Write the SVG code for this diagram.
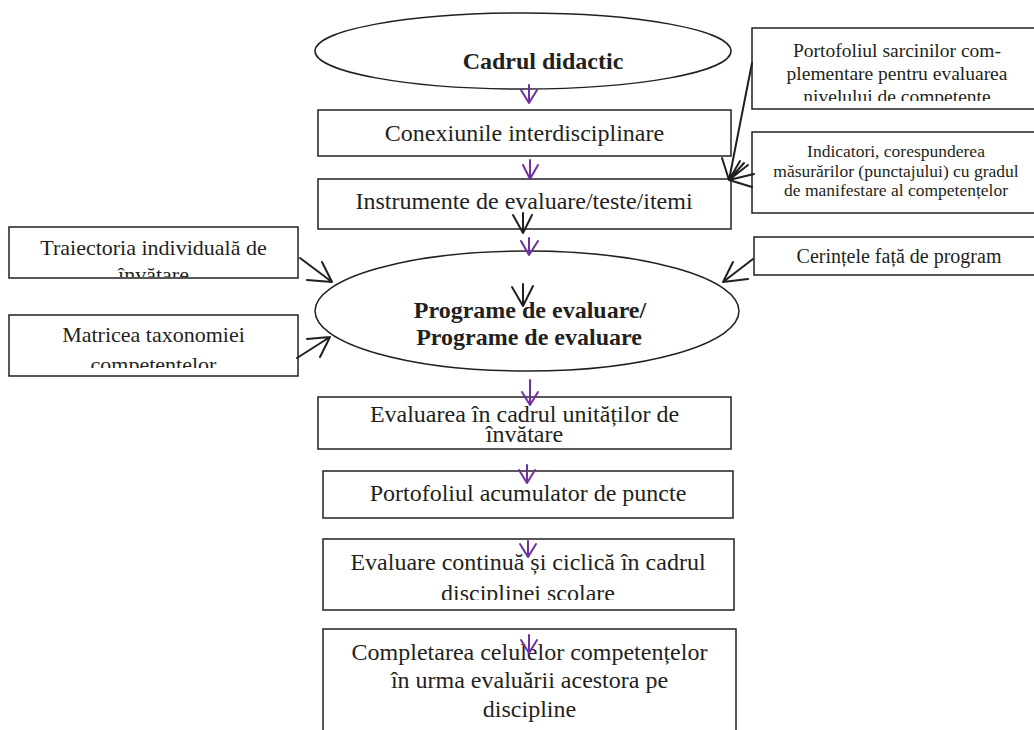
<svg xmlns="http://www.w3.org/2000/svg" width="1034" height="730" viewBox="0 0 1034 730">
<style>
.box{fill:#fff;stroke:#231f20;stroke-width:1.5}
.t{font-family:"Liberation Serif","Times New Roman",serif;fill:#231f20;text-anchor:middle}
.b{font-weight:bold}
.blk{fill:none;stroke:#231f20;stroke-width:2;stroke-linecap:round;stroke-linejoin:round}
.pur{fill:none;stroke:#7030a0;stroke-width:2;stroke-linecap:round;stroke-linejoin:round}
</style>
<defs>
<clipPath id="c1"><rect x="752" y="28" width="290" height="73"/></clipPath>
<clipPath id="c2"><rect x="9" y="227" width="289" height="50"/></clipPath>
<clipPath id="c3"><rect x="9" y="315" width="289" height="53"/></clipPath>
<clipPath id="c4"><rect x="323" y="539" width="411" height="61"/></clipPath>
</defs>
<rect width="1034" height="730" fill="#fff"/>

<g id="n-cadrul">
<ellipse cx="523" cy="51" rx="208" ry="38" class="box"/>
<text x="543" y="69" class="t b" font-size="24">Cadrul didactic</text>
</g>
<g id="n-conexiuni">
<rect x="318" y="110" width="413" height="46" class="box"/>
<text x="524.5" y="141" class="t" font-size="24">Conexiunile interdisciplinare</text>
</g>
<g id="n-instrumente">
<rect x="318" y="179" width="413" height="50" class="box"/>
<text x="524" y="209" class="t" font-size="24">Instrumente de evaluare/teste/itemi</text>
</g>
<g id="n-portofoliul-sarcinilor">
<rect x="752" y="28" width="290" height="81" class="box"/>
<g clip-path="url(#c1)">
<text class="t" font-size="19.5"><tspan x="897" y="57">Portofoliul sarcinilor com-</tspan><tspan x="897" y="80">plementare pentru evaluarea</tspan><tspan x="897" y="103">nivelului de competente</tspan></text>
</g>
</g>
<g id="n-indicatori">
<rect x="752" y="132" width="290" height="81" class="box"/>
<text class="t" font-size="17.5"><tspan x="896" y="157">Indicatori, corespunderea</tspan><tspan x="896" y="177">măsurărilor (punctajului) cu gradul</tspan><tspan x="896" y="196">de manifestare al competențelor</tspan></text>
</g>
<g id="n-cerintele">
<rect x="754" y="237" width="290" height="38" class="box"/>
<text x="899" y="263" class="t" font-size="20">Cerințele față de program</text>
</g>
<g id="n-traiectoria">
<rect x="9" y="227" width="289" height="51" class="box"/>
<g clip-path="url(#c2)">
<text class="t" font-size="22"><tspan x="153.5" y="255">Traiectoria individuală de</tspan><tspan x="153.5" y="282">învătare</tspan></text>
</g>
</g>
<g id="n-matricea">
<rect x="9" y="315" width="289" height="61" class="box"/>
<g clip-path="url(#c3)">
<text class="t" font-size="22"><tspan x="153.5" y="342">Matricea taxonomiei</tspan><tspan x="153.5" y="372">competentelor</tspan></text>
</g>
</g>
<g id="n-programe">
<ellipse cx="527" cy="311" rx="212" ry="60" class="box"/>
<text class="t b" font-size="24"><tspan x="530" y="318">Programe de evaluare/</tspan><tspan x="529" y="345">Programe de evaluare</tspan></text>
</g>
<g id="n-evaluarea">
<rect x="318" y="397" width="413" height="52" class="box"/>
<text class="t" font-size="24"><tspan x="524.5" y="422">Evaluarea în cadrul unităților de</tspan><tspan x="524.5" y="442">învătare</tspan></text>
</g>
<g id="n-portofoliul-acumulator">
<rect x="323" y="471" width="410" height="47" class="box"/>
<text x="528" y="501" class="t" font-size="24">Portofoliul acumulator de puncte</text>
</g>
<g id="n-evaluare-continua">
<rect x="323" y="539" width="411" height="71" class="box"/>
<g clip-path="url(#c4)">
<text class="t" font-size="24"><tspan x="528" y="570">Evaluare continuă și ciclică în cadrul</tspan><tspan x="528" y="601">disciplinei scolare</tspan></text>
</g>
</g>
<g id="n-completarea">
<rect x="323" y="629" width="413" height="110" class="box"/>
<text class="t" font-size="24"><tspan x="529.5" y="660">Completarea celulelor competențelor</tspan><tspan x="529.5" y="688">în urma evaluării acestora pe</tspan><tspan x="529.5" y="717">discipline</tspan></text>
</g>

<g id="connectors">
<!-- purple vertical arrows -->
<path class="pur" d="M529 85V103M521 90L529 103L537 90"/>
<path class="pur" d="M530 160V179M523 165L530 179L538 165"/>
<path class="pur" d="M529 238V255M521 241L529 255L538 241"/>
<path class="pur" d="M530 380V405M522 392L530 405L538 392"/>
<path class="pur" d="M527 465V483M519 470L527 483L535 470"/>
<path class="pur" d="M528 541V557M520 544L528 557L536 544"/>
<path class="pur" d="M529 635V653M521 640L529 653L537 640"/>
<!-- black arrows -->
<path class="blk" d="M523 213V233M513 215L523 233L532 215"/>
<path class="blk" d="M523 284V306M512 287L523 306L533 286"/>
<!-- right boxes to Instrumente -->
<path class="blk" d="M752 63L729 180M722 158L729 180M740 161L729 180M744 163L729 180M748 165L729 180M754 174L729 180M752 187L729 180"/>
<!-- left boxes to ellipse -->
<path class="blk" d="M300 258L332 282M322 262L332 282M307 280L332 282"/>
<path class="blk" d="M297 358L330 337M307 339L330 337M320 357L330 337"/>
<!-- Cerintele to ellipse -->
<path class="blk" d="M753 259L723 282M733 262L723 282M748 279L723 282"/>
</g>
</svg>
